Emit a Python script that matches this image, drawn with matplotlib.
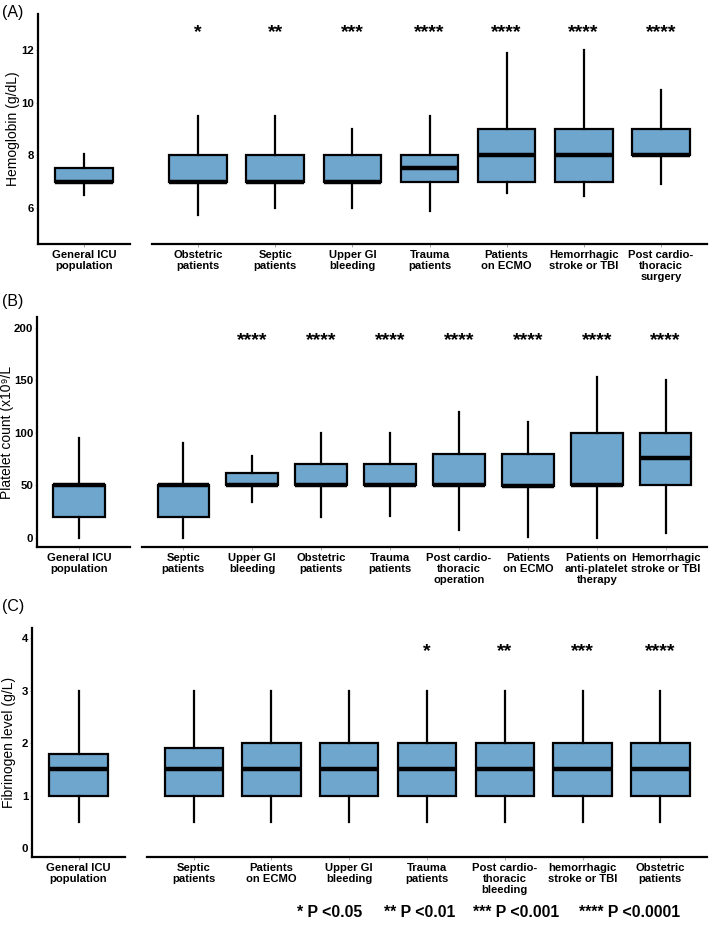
import matplotlib
matplotlib.use('Agg')
import matplotlib.pyplot as plt

plt.rcParams['font.family'] = ['Liberation Sans', 'DejaVu Sans']

# ---- Panel A: hemoglobin (g/dL) ----
a_cats = ['General ICU\npopulation', 'Obstetric\npatients', 'Septic\npatients', 'Upper GI\nbleeding',
          'Trauma\npatients', 'Patients\non ECMO', 'Hemorrhagic\nstroke or TBI', 'Post cardio-\nthoracic\nsurgery']
a_lo = [6.5, 5.75, 6.0, 6.0, 5.9, 6.55, 6.45, 6.9]
a_q1 = [7.0, 7.0, 7.0, 7.0, 7.0, 7.0, 7.0, 8.0]
a_med = [7.0, 7.0, 7.0, 7.0, 7.5, 8.0, 8.0, 8.0]
a_q3 = [7.5, 8.0, 8.0, 8.0, 8.0, 9.0, 9.0, 9.0]
a_hi = [8.05, 9.5, 9.5, 9.0, 9.5, 11.9, 12.0, 10.5]
a_stars = ['', '*', '**', '***', '****', '****', '****', '****']

# ---- Panel B: platelet count ----
b_cats = ['General ICU\npopulation', 'Septic\npatients', 'Upper GI\nbleeding', 'Obstetric\npatients',
          'Trauma\npatients', 'Post cardio-\nthoracic\noperation', 'Patients\non ECMO',
          'Patients on\nanti-platelet\ntherapy', 'Hemorrhagic\nstroke or TBI']
b_lo = [0, 0, 34, 20, 21, 8, 1, 0, 5]
b_q1 = [20, 20, 50, 50, 50, 50, 49, 50, 50]
b_med = [50, 50, 50, 50, 50, 50, 49, 50, 76]
b_q3 = [50, 50, 62, 70, 70, 80, 80, 100, 100]
b_hi = [95, 90, 78, 100, 100, 120, 110, 153, 150]
b_stars = ['', '', '****', '****', '****', '****', '****', '****', '****']

# ---- Panel C: fibrinogen (g/L) ----
c_cats = ['General ICU\npopulation', 'Septic\npatients', 'Patients\non ECMO', 'Upper GI\nbleeding',
          'Trauma\npatients', 'Post cardio-\nthoracic\nbleeding', 'hemorrhagic\nstroke or TBI',
          'Obstetric\npatients']
c_lo = [0.5, 0.5, 0.5, 0.5, 0.5, 0.5, 0.5, 0.5]
c_q1 = [1.0, 1.0, 1.0, 1.0, 1.0, 1.0, 1.0, 1.0]
c_med = [1.5, 1.5, 1.5, 1.5, 1.5, 1.5, 1.5, 1.5]
c_q3 = [1.8, 1.9, 2.0, 2.0, 2.0, 2.0, 2.0, 2.0]
c_hi = [3.0, 3.0, 3.0, 3.0, 3.0, 3.0, 3.0, 3.0]
c_stars = ['', '', '', '', '*', '**', '***', '****']

BOX = '#6ea6ce'
W, H = 709, 930

fig = plt.figure(figsize=(W / 100, H / 100), dpi=100)


def px_axes(x0, x1, top, bottom):
    return fig.add_axes([x0 / W, 1 - bottom / H, (x1 - x0) / W, (bottom - top) / H])


def boxes(ax, lo, q1, med, q3, hi):
    stats = [dict(whislo=l, q1=a, med=m, q3=b, whishi=h, fliers=[])
             for l, a, m, b, h in zip(lo, q1, med, q3, hi)]
    ax.bxp(stats, positions=list(range(1, len(stats) + 1)), widths=0.75, patch_artist=True,
           showcaps=False, showfliers=False,
           boxprops=dict(facecolor=BOX, edgecolor='black', linewidth=1.6),
           whiskerprops=dict(color='black', linewidth=1.6),
           medianprops=dict(color='black', linewidth=3.2, solid_capstyle='butt'))


def style(ax, cats, yleft):
    for s in ['top', 'right']:
        ax.spines[s].set_visible(False)
    ax.spines['bottom'].set_linewidth(1.6)
    ax.spines['left'].set_linewidth(1.6)
    ax.set_xticks(range(1, len(cats) + 1))
    ax.set_xticklabels(cats, fontsize=8.1, fontweight='bold', linespacing=1.08)
    ax.tick_params(axis='x', length=2.5, width=0.6, color='#999999', pad=2)
    if yleft:
        ax.tick_params(axis='y', length=1.5, width=0.6, color='#999999', pad=1.2,
                       labelsize=8.2)
        for t in ax.get_yticklabels():
            t.set_fontweight('bold')
    else:
        ax.spines['left'].set_visible(False)
        ax.set_yticks([])


def panel(letter, cats, lo, q1, med, q3, hi, stars, top, bottom, lx, rx, lxlim, rxlim,
          ylim, yticks, ylabel, ystar, label_x, letter_y):
    axl = px_axes(lx[0], lx[1], top, bottom)
    axr = px_axes(rx[0], rx[1], top, bottom)
    boxes(axl, lo[:1], q1[:1], med[:1], q3[:1], hi[:1])
    boxes(axr, lo[1:], q1[1:], med[1:], q3[1:], hi[1:])
    for ax in (axl, axr):
        ax.set_ylim(*ylim)
    axl.set_yticks(yticks)
    axl.set_xlim(*lxlim)
    axr.set_xlim(*rxlim)
    style(axl, cats[:1], True)
    style(axr, cats[1:], False)
    for i, s in enumerate(stars[1:]):
        if s:
            axr.text(i + 1, ystar, s, ha='center', va='center', fontsize=14, fontweight='bold')
    axl.set_ylabel(ylabel, fontsize=10)
    axl.yaxis.set_label_coords(label_x / W, 1 - (top + bottom) / 2 / H, transform=fig.transFigure)
    fig.text(2 / W, 1 - letter_y / H, '(' + letter + ')', fontsize=11.5, va='center', ha='left')


panel('A', a_cats, a_lo, a_q1, a_med, a_q3, a_hi, a_stars, 14, 244, (38, 130), (152, 707),
      (0.4, 1.6), (0.4, 7.6), (4.63, 13.37), [6, 8, 10, 12], 'Hemoglobin (g/dL)', 12.65, 20, 12)
panel('B', b_cats, b_lo, b_q1, b_med, b_q3, b_hi, b_stars, 317, 547, (37, 130), (142, 707),
      (0.4, 1.73), (0.4, 8.6), (-8.6, 210), [0, 50, 100, 150, 200],
      'Platelet count (x10\u2079/L', 188, 14, 301)
panel('C', c_cats, c_lo, c_q1, c_med, c_q3, c_hi, c_stars, 628, 857, (32, 125), (147, 707),
      (0.4, 1.6), (0.4, 7.6), (-0.17, 4.19), [0, 1, 2, 3, 4], 'Fibrinogen level (g/L)', 3.75, 16, 606)

legend_txt = ['* P <0.05', '** P <0.01', '*** P <0.001', '**** P <0.0001']
legend_x = [297, 384, 473, 579]
for t, x in zip(legend_txt, legend_x):
    fig.text(x / W, 1 - 912 / H, t, fontsize=11.4, fontweight='bold', ha='left', va='center')

fig.savefig('out.png', dpi=100)
